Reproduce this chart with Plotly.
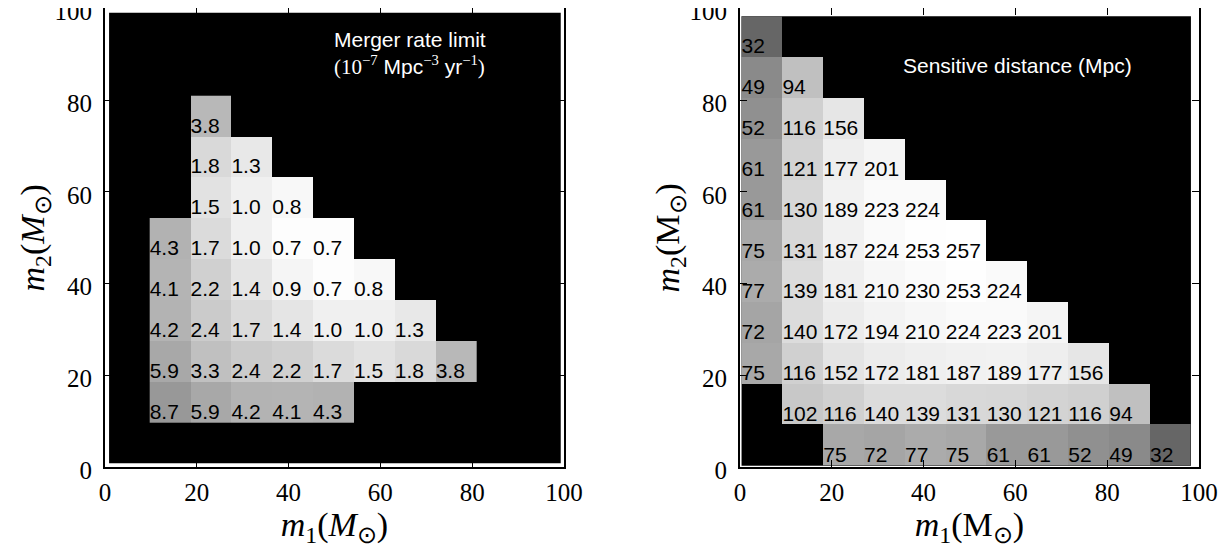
import plotly.graph_objects as go

# ---------------- data ----------------
tick_vals = [0, 20, 40, 60, 80, 100]

# Merger rate limit (1e-7 Mpc^-3 yr^-1); rows bottom -> top, 8 mass bins each
rate_rows = [
    [8.7, 5.9, 4.2, 4.1, 4.3, None, None, None],
    [5.9, 3.3, 2.4, 2.2, 1.7, 1.5, 1.8, 3.8],
    [4.2, 2.4, 1.7, 1.4, 1.0, 1.0, 1.3, None],
    [4.1, 2.2, 1.4, 0.9, 0.7, 0.8, None, None],
    [4.3, 1.7, 1.0, 0.7, 0.7, None, None, None],
    [None, 1.5, 1.0, 0.8, None, None, None, None],
    [None, 1.8, 1.3, None, None, None, None, None],
    [None, 3.8, None, None, None, None, None, None],
]

# Sensitive distance (Mpc); rows bottom -> top, 11 mass bins each
dist_rows = [
    [None, None, 75, 72, 77, 75, 61, 61, 52, 49, 32],
    [None, 102, 116, 140, 139, 131, 130, 121, 116, 94, None],
    [75, 116, 152, 172, 181, 187, 189, 177, 156, None, None],
    [72, 140, 172, 194, 210, 224, 223, 201, None, None, None],
    [77, 139, 181, 210, 230, 253, 224, None, None, None, None],
    [75, 131, 187, 224, 253, 257, None, None, None, None, None],
    [61, 130, 189, 223, 224, None, None, None, None, None, None],
    [61, 121, 177, 201, None, None, None, None, None, None, None],
    [52, 116, 156, None, None, None, None, None, None, None, None],
    [49, 94, None, None, None, None, None, None, None, None, None],
    [32, None, None, None, None, None, None, None, None, None, None],
]

# ---------------- geometry / style ----------------
CELL = 8.9
RATE_X0, RATE_Y0 = 9.75, 9.75
DIST_X0, DIST_Y0 = 0.35, 0.35
TEXT_DY = 2.0   # label centre height above the cell's lower edge

SERIF = "Liberation Serif"
SANS = "Liberation Sans"

rate_min, rate_max = 0.7, 8.7
rate_scale_pts = [(0.7, 253), (0.8, 248), (0.9, 245), (1.0, 240), (1.3, 232),
                  (1.5, 226), (1.7, 219), (2.2, 208), (2.4, 203), (3.3, 192),
                  (3.8, 184), (4.2, 179), (5.9, 168), (8.7, 152)]
dist_min, dist_max = 32, 257
dist_scale_pts = [(32, 102), (49, 138), (52, 144), (61, 153), (75, 168), (94, 192),
                  (102, 200), (116, 208), (140, 220), (156, 230), (189, 242),
                  (224, 250), (257, 255)]


def make_scale(pts, vmin, vmax):
    return [[(v - vmin) / (vmax - vmin), f"rgb({g},{g},{g})"] for v, g in pts]


def text_points(rows, x0, y0, fmt):
    xs, ys, ts = [], [], []
    for i, row in enumerate(rows):
        for j, v in enumerate(row):
            if v is None:
                continue
            xs.append(x0 + j * CELL)
            ys.append(y0 + i * CELL + TEXT_DY)
            ts.append(fmt.format(v))
    return xs, ys, ts


fig = go.Figure()

# left panel heatmap
fig.add_trace(go.Heatmap(
    z=rate_rows, x0=RATE_X0 + CELL / 2, dx=CELL, y0=RATE_Y0 + CELL / 2, dy=CELL,
    colorscale=make_scale(rate_scale_pts, rate_min, rate_max),
    zmin=rate_min, zmax=rate_max, showscale=False, hoverinfo="skip",
    xaxis="x", yaxis="y"))
xs, ys, ts = text_points(rate_rows, RATE_X0, RATE_Y0, "{:.1f}")
fig.add_trace(go.Scatter(
    x=xs, y=ys, text=ts, mode="text", textposition="middle right",
    textfont=dict(family=SANS, size=21, color="black"), cliponaxis=False,
    hoverinfo="skip", xaxis="x", yaxis="y"))

# right panel heatmap
fig.add_trace(go.Heatmap(
    z=dist_rows, x0=DIST_X0 + CELL / 2, dx=CELL, y0=DIST_Y0 + CELL / 2, dy=CELL,
    colorscale=make_scale(dist_scale_pts, dist_min, dist_max),
    zmin=dist_min, zmax=dist_max, showscale=False, hoverinfo="skip",
    xaxis="x2", yaxis="y2"))
xs, ys, ts = text_points(dist_rows, DIST_X0, DIST_Y0, "{:d}")
fig.add_trace(go.Scatter(
    x=xs, y=ys, text=ts, mode="text", textposition="middle right",
    textfont=dict(family=SANS, size=21, color="black"), cliponaxis=False,
    hoverinfo="skip", xaxis="x2", yaxis="y2"))

axis_common = dict(
    range=[0, 100], tickvals=tick_vals, ticks="inside", ticklen=7, tickwidth=1,
    tickcolor="black", showline=True, linewidth=2, linecolor="black",
    mirror="ticks", showgrid=False, zeroline=False, automargin=False,
    ticklabeloverflow="allow",
    tickfont=dict(family=SERIF, size=25, color="black"),
)

title_font = dict(family=SERIF, size=34, color="black")

fig.update_layout(
    width=1224, height=540,
    margin=dict(l=0, r=0, t=0, b=0, autoexpand=False),
    paper_bgcolor="white", plot_bgcolor="white",
    showlegend=False,
    xaxis=dict(domain=[0.0792, 0.4542], anchor="y", ticklabelstandoff=2,
               title=dict(text="<i>m</i><sub>1</sub>(<i>M</i><sub>⊙</sub>)",
                          font=title_font, standoff=1),
               **axis_common),
    yaxis=dict(domain=[0.1494, 0.9995], anchor="x", ticklabelstandoff=6,
               ticklabelshift=3,
               title=dict(text="<i>m</i><sub>2</sub>(<i>M</i><sub>⊙</sub>)",
                          font=title_font, standoff=0),
               **axis_common),
    xaxis2=dict(domain=[0.5980, 0.9730], anchor="y2", ticklabelstandoff=2,
                title=dict(text="<i>m</i><sub>1</sub>(M<sub>⊙</sub>)",
                           font=title_font, standoff=1),
                **axis_common),
    yaxis2=dict(domain=[0.1494, 0.9995], anchor="x2", ticklabelstandoff=6,
                ticklabelshift=3,
                title=dict(text="<i>m</i><sub>2</sub>(M<sub>⊙</sub>)",
                           font=title_font, standoff=0),
                **axis_common),
    shapes=[
        dict(type="rect", xref="x", yref="y", x0=0.9, x1=99.3, y0=0.9, y1=99.0,
             fillcolor="black", line=dict(width=0), layer="below"),
        dict(type="rect", xref="x2", yref="y2", x0=DIST_X0, x1=DIST_X0 + 11 * CELL,
             y0=DIST_Y0, y1=DIST_Y0 + 11 * CELL,
             fillcolor="black", line=dict(width=0), layer="below"),
    ],
    annotations=[
        dict(xref="x", yref="y", x=49.5, y=96.2, xanchor="left", yanchor="top",
             align="left", showarrow=False,
             font=dict(family=SANS, size=21, color="white"),
             text=("Merger rate limit<br>"
                   f"<span style='font-family:{SERIF}'>(10<sup>−7</sup></span> Mpc"
                   f"<span style='font-family:{SERIF}'><sup>−3</sup></span> yr"
                   f"<span style='font-family:{SERIF}'><sup>−1</sup>)</span>")),
        dict(xref="x2", yref="y2", x=35.0, y=87.5, xanchor="left", yanchor="middle",
             align="left", showarrow=False,
             font=dict(family=SANS, size=21, color="white"),
             text="Sensitive distance (Mpc)"),
    ],
)

fig.write_html("out.html")
